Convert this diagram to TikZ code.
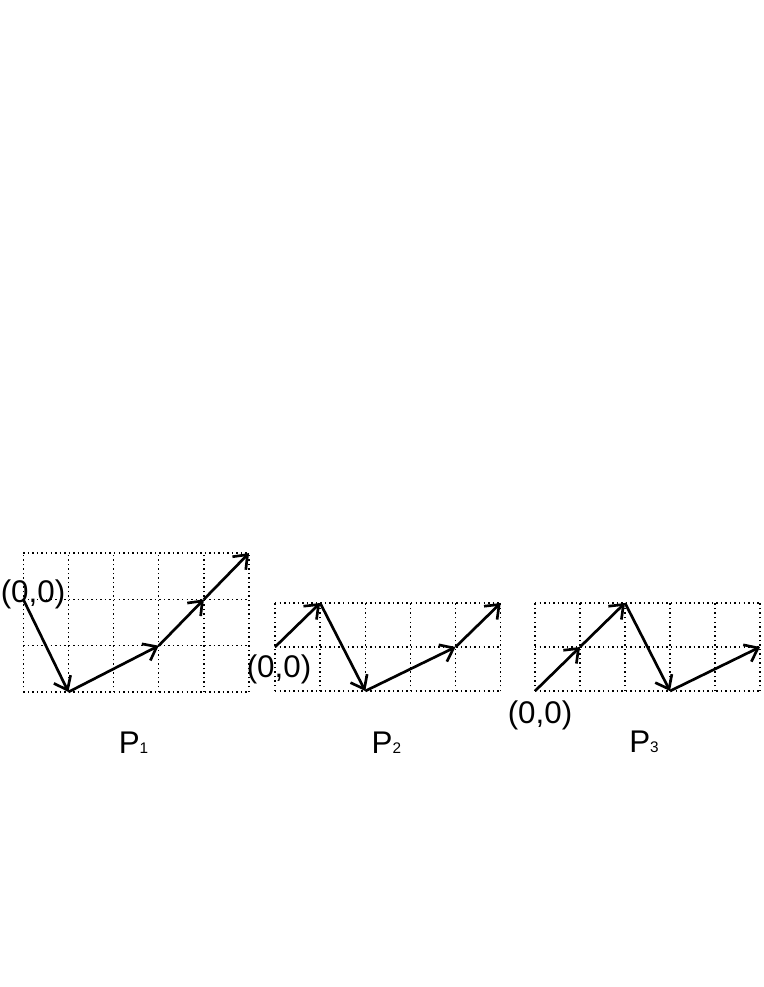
\documentclass[tikz,border=0pt]{standalone}
\usepackage{fontspec}
\setmainfont{Liberation Sans}
\usetikzlibrary{arrows.meta}
\begin{document}
\begin{tikzpicture}[x=0.75pt,y=-0.75pt,
  gridline/.style={line width=1.1pt, dash pattern=on 1.1pt off 2.3pt, black},
  vec/.style={line width=2pt, -{Straight Barb[length=9pt,width=14pt,line width=2pt]}},
  lab/.style={anchor=base, inner sep=0pt, font=\fontsize{23.5pt}{27pt}\selectfont},
]
\useasboundingbox (0,0) rectangle (763,987);
% P1
\begin{scope}[shift={(23.3,692)}, xscale=45.14, yscale=-46.3]
  \foreach \i in {0,...,5} \draw[gridline] (\i,0) -- (\i,3);
  \foreach \j in {0,...,3} \draw[gridline] (0,\j) -- (5,\j);
  \coordinate (a0) at (0,2);
  \coordinate (a1) at (1,0);
  \coordinate (a2) at (3,1);
  \coordinate (a3) at (4,2);
  \coordinate (a4) at (5,3);
\end{scope}
\draw[vec] (a0) -- (a1);
\draw[vec] (a1) -- (a2);
\draw[vec] (a2) -- (a3);
\draw[vec] (a3) -- (a4);
\node[lab] (o1) at (33,602) {(0,0)};
\node[lab] (p1) at (133.5,753) {P{\fontsize{11.5pt}{14pt}\selectfont 1}};
% P2
\begin{scope}[shift={(275,691)}, xscale=45.14, yscale=-44]
  \foreach \i in {0,...,5} \draw[gridline] (\i,0) -- (\i,2);
  \foreach \j in {0,...,2} \draw[gridline] (0,\j) -- (5,\j);
  \coordinate (b0) at (0,1);
  \coordinate (b1) at (1,2);
  \coordinate (b2) at (2,0);
  \coordinate (b3) at (4,1);
  \coordinate (b4) at (5,2);
\end{scope}
\draw[vec] (b0) -- (b1);
\draw[vec] (b1) -- (b2);
\draw[vec] (b2) -- (b3);
\draw[vec] (b3) -- (b4);
\node[lab] (o2) at (279,677) {(0,0)};
\node[lab] (p2) at (386.4,753) {P{\fontsize{11.5pt}{14pt}\selectfont 2}};
% P3
\begin{scope}[shift={(535,691)}, xscale=45, yscale=-44]
  \foreach \i in {0,...,5} \draw[gridline] (\i,0) -- (\i,2);
  \foreach \j in {0,...,2} \draw[gridline] (0,\j) -- (5,\j);
  \coordinate (c0) at (0,0);
  \coordinate (c1) at (1,1);
  \coordinate (c2) at (2,2);
  \coordinate (c3) at (3,0);
  \coordinate (c4) at (5,1);
\end{scope}
\draw[vec] (c0) -- (c1);
\draw[vec] (c1) -- (c2);
\draw[vec] (c2) -- (c3);
\draw[vec] (c3) -- (c4);
\node[lab] (o3) at (540,723) {(0,0)};
\node[lab] (p3) at (644,752) {P{\fontsize{11.5pt}{14pt}\selectfont 3}};
\end{tikzpicture}
\end{document}
